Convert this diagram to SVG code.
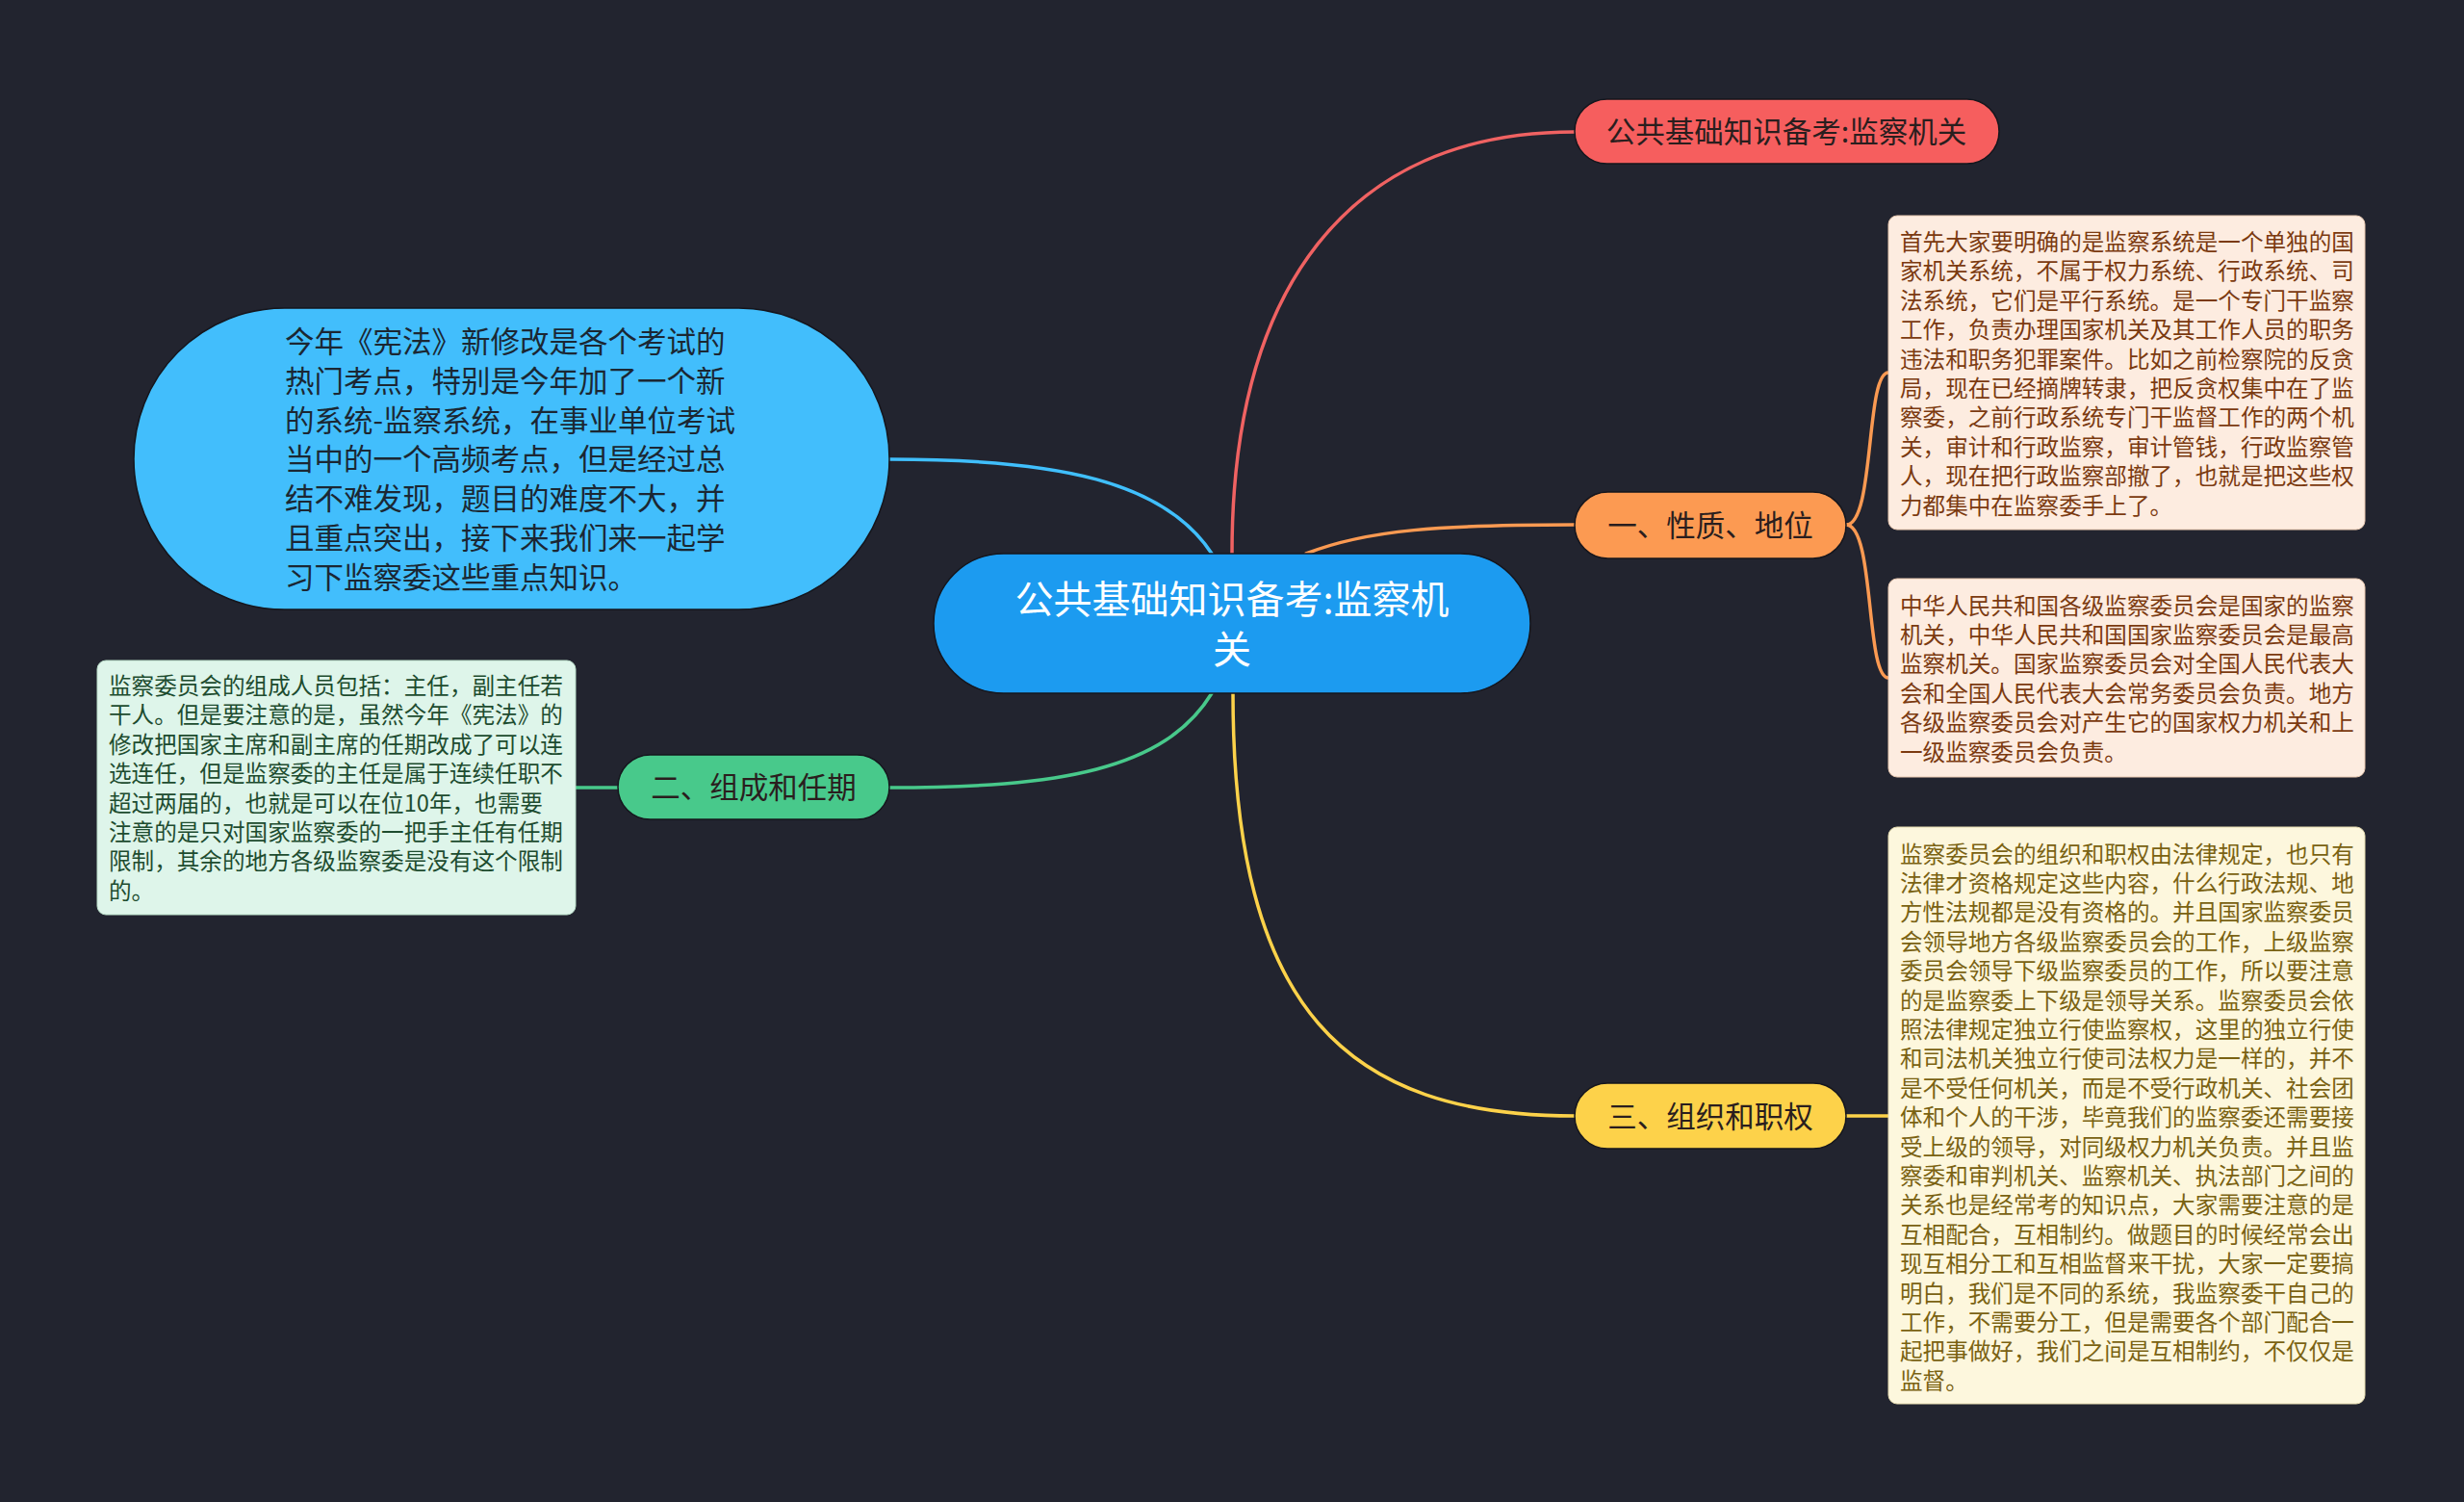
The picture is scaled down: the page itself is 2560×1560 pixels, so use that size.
<svg xmlns="http://www.w3.org/2000/svg" width="2560" height="1560" viewBox="0 0 2560 1560">
<style>
text{font-family:"Noto Sans CJK SC","Noto Sans",sans-serif;}
.edge{fill:none;stroke-width:3.5;stroke-linecap:round;}
.lbl{font-size:30.5px;fill:#2a1e1e;text-anchor:middle;}
.note{font-size:23.6px;}
.nodeb{stroke:#15161d;stroke-width:1.5;}
</style>
<rect width="2560" height="1560" fill="#22242f"/>
<g id="connectors">
<path class="edge" stroke="#f06262" d="M1280 575 C1280 300 1400 137 1636 137"/>
<path class="edge" stroke="#fb9a52" d="M1357 575 C1420 550 1500 545 1636 545"/>
<path class="edge" stroke="#40bffc" d="M1259 575 C1210 500 1100 477 924 477"/>
<path class="edge" stroke="#48c98b" d="M1259 720 C1210 800 1100 818 924 818"/>
<path class="edge" stroke="#fdd24a" d="M1281 720 C1281 1050 1400 1159 1636 1159"/>
<path class="edge" stroke="#fb9a52" d="M1918 545 C1948 545 1938 387 1962 387"/>
<path class="edge" stroke="#fb9a52" d="M1918 545 C1948 545 1938 704 1962 704"/>
<path class="edge" stroke="#48c98b" d="M642 818 L598 818"/>
<path class="edge" stroke="#fdd24a" d="M1918 1159 L1962 1159"/>
</g>
<g id="central">
<rect class="nodeb" x="970" y="575" width="620" height="145" rx="72.5" fill="#1c9bf0"/>
<text font-size="40" fill="#ffffff" text-anchor="middle"><tspan x="1280" y="637">公共基础知识备考:监察机</tspan><tspan x="1280" y="689">关</tspan></text>
</g>
<g id="node-title">
<rect class="nodeb" x="1636" y="103" width="441" height="67" rx="33.5" fill="#f65e5e"/>
<text class="lbl" x="1856" y="148">公共基础知识备考:监察机关</text>
</g>
<g id="node-1">
<rect class="nodeb" x="1636" y="511" width="282" height="69" rx="34.5" fill="#fc9a52"/>
<text class="lbl" x="1777" y="557">一、性质、地位</text>
</g>
<g id="node-2">
<rect class="nodeb" x="642" y="784" width="282" height="67" rx="33.5" fill="#48c98b"/>
<text class="lbl" x="783" y="829">二、组成和任期</text>
</g>
<g id="node-3">
<rect class="nodeb" x="1636" y="1125" width="282" height="68" rx="34" fill="#fdd24a"/>
<text class="lbl" x="1777" y="1171">三、组织和职权</text>
</g>
<g id="node-intro">
<rect class="nodeb" x="139" y="320" width="785" height="313" rx="156.5" fill="#42befc"/>
<text font-size="30.5" fill="#1b2733">
<tspan x="296" y="366">今年《宪法》新修改是各个考试的</tspan>
<tspan x="296" y="406.8">热门考点，特别是今年加了一个新</tspan>
<tspan x="296" y="447.6">的系统-监察系统，在事业单位考试</tspan>
<tspan x="296" y="488.4">当中的一个高频考点，但是经过总</tspan>
<tspan x="296" y="529.2">结不难发现，题目的难度不大，并</tspan>
<tspan x="296" y="570">且重点突出，接下来我们来一起学</tspan>
<tspan x="296" y="610.8">习下监察委这些重点知识。</tspan>
</text>
</g>
<g id="note-1a">
<rect x="1962" y="224" width="495" height="326" rx="9" fill="#fdece0" stroke="#e8c8b0" stroke-width="1"/>
<text class="note" fill="#7b3a10">
<tspan x="1974" y="260">首先大家要明确的是监察系统是一个单独的国</tspan>
<tspan x="1974" y="290.4">家机关系统，不属于权力系统、行政系统、司</tspan>
<tspan x="1974" y="320.8">法系统，它们是平行系统。是一个专门干监察</tspan>
<tspan x="1974" y="351.2">工作，负责办理国家机关及其工作人员的职务</tspan>
<tspan x="1974" y="381.6">违法和职务犯罪案件。比如之前检察院的反贪</tspan>
<tspan x="1974" y="412">局，现在已经摘牌转隶，把反贪权集中在了监</tspan>
<tspan x="1974" y="442.4">察委，之前行政系统专门干监督工作的两个机</tspan>
<tspan x="1974" y="472.8">关，审计和行政监察，审计管钱，行政监察管</tspan>
<tspan x="1974" y="503.2">人，现在把行政监察部撤了，也就是把这些权</tspan>
<tspan x="1974" y="533.6">力都集中在监察委手上了。</tspan>
</text>
</g>
<g id="note-1b">
<rect x="1962" y="601" width="495" height="206" rx="9" fill="#fdece0" stroke="#e8c8b0" stroke-width="1"/>
<text class="note" fill="#7b3a10">
<tspan x="1974" y="637.6">中华人民共和国各级监察委员会是国家的监察</tspan>
<tspan x="1974" y="668">机关，中华人民共和国国家监察委员会是最高</tspan>
<tspan x="1974" y="698.4">监察机关。国家监察委员会对全国人民代表大</tspan>
<tspan x="1974" y="728.8">会和全国人民代表大会常务委员会负责。地方</tspan>
<tspan x="1974" y="759.2">各级监察委员会对产生它的国家权力机关和上</tspan>
<tspan x="1974" y="789.6">一级监察委员会负责。</tspan>
</text>
</g>
<g id="note-2">
<rect x="101" y="686" width="497" height="264" rx="9" fill="#def5ea" stroke="#b8dcc8" stroke-width="1"/>
<text class="note" fill="#1d4c2f">
<tspan x="113" y="721">监察委员会的组成人员包括：主任，副主任若</tspan>
<tspan x="113" y="751.4">干人。但是要注意的是，虽然今年《宪法》的</tspan>
<tspan x="113" y="781.8">修改把国家主席和副主席的任期改成了可以连</tspan>
<tspan x="113" y="812.2">选连任，但是监察委的主任是属于连续任职不</tspan>
<tspan x="113" y="842.6">超过两届的，也就是可以在位10年，也需要</tspan>
<tspan x="113" y="873">注意的是只对国家监察委的一把手主任有任期</tspan>
<tspan x="113" y="903.4">限制，其余的地方各级监察委是没有这个限制</tspan>
<tspan x="113" y="933.8">的。</tspan>
</text>
</g>
<g id="note-3">
<rect x="1962" y="859" width="495" height="599" rx="9" fill="#fdf7dd" stroke="#e6dcb0" stroke-width="1"/>
<text class="note" fill="#7a6212">
<tspan x="1974" y="895.6">监察委员会的组织和职权由法律规定，也只有</tspan>
<tspan x="1974" y="926">法律才资格规定这些内容，什么行政法规、地</tspan>
<tspan x="1974" y="956.4">方性法规都是没有资格的。并且国家监察委员</tspan>
<tspan x="1974" y="986.8">会领导地方各级监察委员会的工作，上级监察</tspan>
<tspan x="1974" y="1017.2">委员会领导下级监察委员的工作，所以要注意</tspan>
<tspan x="1974" y="1047.6">的是监察委上下级是领导关系。监察委员会依</tspan>
<tspan x="1974" y="1078">照法律规定独立行使监察权，这里的独立行使</tspan>
<tspan x="1974" y="1108.4">和司法机关独立行使司法权力是一样的，并不</tspan>
<tspan x="1974" y="1138.8">是不受任何机关，而是不受行政机关、社会团</tspan>
<tspan x="1974" y="1169.2">体和个人的干涉，毕竟我们的监察委还需要接</tspan>
<tspan x="1974" y="1199.6">受上级的领导，对同级权力机关负责。并且监</tspan>
<tspan x="1974" y="1230">察委和审判机关、监察机关、执法部门之间的</tspan>
<tspan x="1974" y="1260.4">关系也是经常考的知识点，大家需要注意的是</tspan>
<tspan x="1974" y="1290.8">互相配合，互相制约。做题目的时候经常会出</tspan>
<tspan x="1974" y="1321.2">现互相分工和互相监督来干扰，大家一定要搞</tspan>
<tspan x="1974" y="1351.6">明白，我们是不同的系统，我监察委干自己的</tspan>
<tspan x="1974" y="1382">工作，不需要分工，但是需要各个部门配合一</tspan>
<tspan x="1974" y="1412.4">起把事做好，我们之间是互相制约，不仅仅是</tspan>
<tspan x="1974" y="1442.8">监督。</tspan>
</text>
</g>
</svg>
